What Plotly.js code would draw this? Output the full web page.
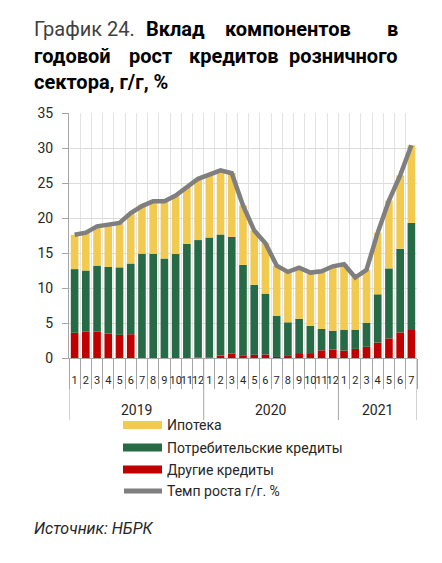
<!DOCTYPE html>
<html>
<head>
<meta charset="utf-8">
<script src="https://cdn.plot.ly/plotly-3.0.1.min.js"></script>
<style>
  html, body { margin: 0; padding: 0; background: #fff; }
  #chart { width: 442px; height: 563px; }
</style>
</head>
<body>
<div id="chart"></div>
<script>
// Monthly categories: 2019-01 .. 2021-07
const months = ['1','2','3','4','5','6','7','8','9','10','11','12',
                '1','2','3','4','5','6','7','8','9','10','11','12',
                '1','2','3','4','5','6','7'];
const years = ['2019', '2020', '2021'];
const monthsPerYear = [12, 12, 7];

// Contributions to y/y growth of retail loans, p.p.
const otherLoans    = [3.6, 3.8, 3.8, 3.5, 3.3, 3.4, -0.2, -0.2, -0.2, 0.0, -0.1, 0.05,
                       0.1, 0.35, 0.6, 0.4, 0.45, 0.5, 0.15, 0.4, 0.7, 0.7, 1.1, 1.2,
                       1.05, 1.3, 1.6, 2.2, 2.8, 3.65, 4.0];
const consumerLoans = [9.1, 8.7, 9.4, 9.5, 9.65, 10.1, 14.9, 14.9, 14.2, 14.85, 16.3, 16.8,
                       17.1, 17.3, 16.7, 12.9, 10.0, 8.7, 5.85, 4.7, 4.9, 3.9, 3.05, 2.7,
                       3.0, 2.75, 3.4, 6.9, 10.0, 11.95, 15.3];
const mortgage      = [4.9, 5.4, 5.6, 6.0, 6.35, 7.2, 7.0, 7.7, 8.4, 8.35, 8.2, 8.75,
                       9.0, 9.15, 9.1, 8.5, 7.75, 7.2, 7.2, 7.2, 7.3, 7.6, 8.25, 9.2,
                       9.35, 7.45, 7.6, 8.8, 9.7, 10.5, 11.1];
const growthRate    = [17.6, 17.9, 18.8, 19.0, 19.3, 20.7, 21.7, 22.4, 22.4, 23.2, 24.4, 25.6,
                       26.2, 26.8, 26.4, 21.8, 18.2, 16.4, 13.2, 12.3, 12.9, 12.2, 12.4, 13.1,
                       13.4, 11.5, 12.6, 17.9, 22.5, 26.1, 30.4];

const seriesNames = ['Ипотека', 'Потребительские кредиты', 'Другие кредиты', 'Темп роста г/г. %'];
const colors = { mortgage: '#F2CA50', consumer: '#266B45', other: '#C00000', growth: '#7F7F7F' };

const W = 442, H = 563;
const M = { l: 69, r: 25, t: 113, b: 205 };
const plotW = W - M.l - M.r, plotH = H - M.t - M.b;
const px = v => (v - M.l) / plotW;            // pixel x -> paper x
const py = v => (H - M.b - v) / plotH;        // pixel y -> paper y

const idx = months.map((_, i) => i);
const FONT = 'Roboto, "DejaVu Sans", sans-serif';
const NARROW = '"Liberation Sans Narrow", "Arial Narrow", Roboto, sans-serif';

const traces = [
  { type: 'bar', name: seriesNames[2], x: idx, y: otherLoans,
    marker: { color: colors.other }, showlegend: false, hoverinfo: 'skip' },
  { type: 'bar', name: seriesNames[1], x: idx, y: consumerLoans,
    marker: { color: colors.consumer }, showlegend: false, hoverinfo: 'skip' },
  { type: 'bar', name: seriesNames[0], x: idx, y: mortgage,
    marker: { color: colors.mortgage }, showlegend: false, hoverinfo: 'skip' },
  { type: 'scatter', mode: 'lines', name: seriesNames[3], x: idx, y: growthRate,
    line: { color: colors.growth, width: 4.5 }, showlegend: false, hoverinfo: 'skip' }
];

// Year group boundaries and centres on the category axis
const boundaries = [-0.5];
const yearCentres = [];
let start = 0;
monthsPerYear.forEach(n => {
  yearCentres.push(start + (n - 1) / 2);
  start += n;
  boundaries.push(start - 0.5);
});

const shapes = boundaries.map(b => ({
  type: 'line', xref: 'x', yref: 'paper', x0: b, x1: b, y0: 0, y1: py(420),
  line: { color: '#A6A6A6', width: 1 }
}));

const annotations = [];
years.forEach((y, i) => annotations.push({
  xref: 'x', yref: 'paper', x: yearCentres[i], y: py(410), text: y, showarrow: false,
  xanchor: 'center', yanchor: 'middle', font: { family: FONT, size: 14, color: '#262626' }
}));

// Title, laid out as justified lines
const tBold = { family: FONT, size: 20, color: '#000000', weight: 700 };
const tNorm = { family: FONT, size: 20, color: '#3F3F3F', weight: 400 };
const titleWords = [
  { t: 'График 24.', x: 32, a: 'left', y: 29, f: tNorm },
  { t: 'Вклад', x: 175, a: 'center', y: 29, f: tBold },
  { t: 'компонентов', x: 288, a: 'center', y: 29, f: tBold },
  { t: 'в', x: 400, a: 'right', y: 29, f: tBold },
  { t: 'годовой', x: 32, a: 'left', y: 55.5, f: tBold },
  { t: 'рост', x: 150.5, a: 'center', y: 55.5, f: tBold },
  { t: 'кредитов', x: 233.5, a: 'center', y: 55.5, f: tBold },
  { t: 'розничного', x: 400, a: 'right', y: 55.5, f: tBold },
  { t: 'сектора, г/г, %', x: 32, a: 'left', y: 82, f: tBold }
];
titleWords.forEach(w => annotations.push({
  xref: 'paper', yref: 'paper', x: px(w.x), y: py(w.y), text: w.t, showarrow: false,
  xanchor: w.a, yanchor: 'middle', font: w.f
}));

// Legend drawn below the axis
const legendRows = [425, 447.5, 469.5, 491];
const legendColors = [colors.mortgage, colors.consumer, colors.other, colors.growth];
legendRows.forEach((yy, i) => {
  if (i < 3) {
    shapes.push({ type: 'rect', xref: 'paper', yref: 'paper',
      x0: px(123), x1: px(162), y0: py(yy - 4), y1: py(yy + 4),
      fillcolor: legendColors[i], line: { width: 0 } });
  } else {
    shapes.push({ type: 'line', xref: 'paper', yref: 'paper',
      x0: px(124), x1: px(162), y0: py(yy), y1: py(yy),
      line: { color: legendColors[i], width: 5 } });
  }
  annotations.push({ xref: 'paper', yref: 'paper', x: px(165), y: py(yy), text: seriesNames[i],
    showarrow: false, xanchor: 'left', yanchor: 'middle',
    font: { family: FONT, size: 14, color: '#262626' } });
});

annotations.push({ xref: 'paper', yref: 'paper', x: px(32), y: py(528),
  text: '<i>Источник: НБРК</i>', showarrow: false, xanchor: 'left', yanchor: 'middle',
  font: { family: FONT, size: 16, color: '#262626' } });

const layout = {
  width: W, height: H, margin: M,
  paper_bgcolor: '#ffffff', plot_bgcolor: '#ffffff',
  barmode: 'relative', bargap: 0.32,
  showlegend: false,
  xaxis: {
    range: [-0.5, months.length - 0.5],
    tickmode: 'array', tickvals: idx, ticktext: months,
    ticks: '', showgrid: false, zeroline: false,
    showline: true, linecolor: '#A6A6A6', linewidth: 1,
    tickangle: 0,
    ticklabelstandoff: 12,
    tickfont: { family: NARROW, size: 11, color: '#262626' },
    minor: { tickmode: 'linear', tick0: -0.5, dtick: 1, ticks: 'outside', ticklen: 30,
             tickcolor: '#A6A6A6', tickwidth: 1, showgrid: true, gridcolor: '#E3E3E3', gridwidth: 1 },
    fixedrange: true
  },
  yaxis: {
    range: [0, 35], tickmode: 'linear', tick0: 0, dtick: 5,
    showgrid: true, gridcolor: '#DCDCDC', gridwidth: 1, zeroline: false,
    showline: true, linecolor: '#A6A6A6', linewidth: 1,
    ticks: 'outside', ticklen: 6, tickcolor: '#A6A6A6',
    ticklabelstandoff: 6,
    tickfont: { family: FONT, size: 14, color: '#262626' },
    fixedrange: true
  },
  shapes: shapes,
  annotations: annotations,
  font: { family: FONT }
};

Plotly.newPlot('chart', traces, layout, { staticPlot: true, displayModeBar: false });
</script>
</body>
</html>
